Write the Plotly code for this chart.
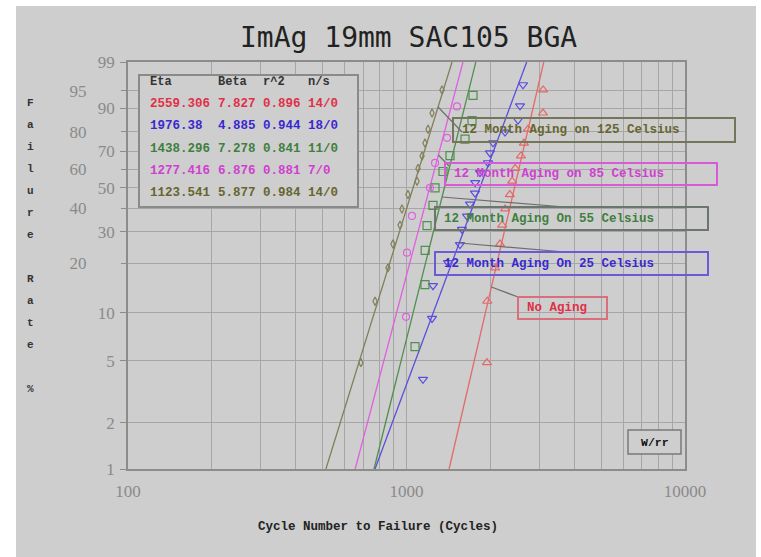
import numpy as np
import plotly.graph_objects as go

# ---- Weibull fit results (one row per test group) ----
groups = ["No Aging",
          "12 Month Aging On 25 Celsius",
          "12 Month Aging On 55 Celsius",
          "12 Month Aging on 85 Celsius",
          "12 Month Aging on 125 Celsius"]
eta = [2559.306, 1976.38, 1438.296, 1277.416, 1123.541]
beta = [7.827, 4.885, 7.278, 6.876, 5.877]
r_sq = [0.896, 0.944, 0.841, 0.881, 0.984]
n_s = ["14/0", "18/0", "11/0", "7/0", "14/0"]

# ---- Cycles to failure per group ----
cyc_none = [1945, 1950, 2080, 2165, 2205, 2260, 2350, 2395, 2455, 2575, 2640, 2730, 3090, 3095]
cyc_25c = [1146, 1235, 1245, 1410, 1556, 1582, 1649, 1690, 1762, 1765, 1836, 1962, 1994, 2045,
           2258, 2514, 2556, 2620]
cyc_55c = [1073, 1165, 1167, 1185, 1245, 1266, 1352, 1433, 1622, 1719, 1733]
cyc_85c = [996, 1004, 1046, 1214, 1266, 1398, 1518]
cyc_125c = [686, 771, 858, 894, 948, 963, 1012, 1091, 1100, 1137, 1165, 1195, 1235, 1341]
cycles = [cyc_none, cyc_25c, cyc_55c, cyc_85c, cyc_125c]

# ---- Axis ticks ----
x_ticks = [100, 1000, 10000]
x_minor = [200, 300, 400, 500, 600, 700, 800, 900, 2000, 3000, 4000, 5000, 6000, 7000, 8000, 9000]
y_ticks_inner = [99, 90, 70, 50, 30, 10, 5, 2, 1]
y_ticks_outer = [95, 80, 60, 40, 20]

line_colors = ["#e26a6a", "#5a4ee0", "#4f8f4f", "#e060e0", "#80805a"]
text_colors = ["#e03048", "#3a28d0", "#3f7f3f", "#d040d0", "#66662e"]
box_colors = ["#d8707c", "#6a5ad8", "#6d766d", "#d85ad8", "#75755a"]
symbols = ["triangle-up-open", "triangle-down-open", "square-open", "circle-open", "diamond-tall-open"]
sizes = [8, 8, 8, 7, 6]

PANEL = "#cecece"
W, H = 761, 557
PL, PR, PT, PB = 128, 685, 62, 469


def weib(p):
    """Weibull probability-paper transform of a fraction p."""
    p = np.asarray(p, dtype=float)
    return np.log(-np.log(1.0 - p))


Y0, Y1 = float(weib(0.01)), float(weib(0.99))


def px(x):
    return (x - PL) / (PR - PL)


def py(y):
    return (PB - y) / (PB - PT)


def fit_point_paper(k, y_pix):
    """Paper coordinates of the fitted line of group k at a given vertical pixel."""
    w = Y0 + (PB - y_pix) / (PB - PT) * (Y1 - Y0)
    t = eta[k] * np.exp(w / beta[k])
    return (np.log10(t) - 2) / 2, py(y_pix)


def label(text, x, y, size, color, family="Liberation Mono", weight="bold", xanchor="center"):
    return dict(text=text, xref="paper", yref="paper", x=px(x), y=py(y), xanchor=xanchor,
                yanchor="middle", showarrow=False,
                font=dict(family=family, size=size, color=color, weight=weight))


fig = go.Figure()

# fitted Weibull lines
for k in range(5):
    F = np.array([0.01, 0.99])
    t = eta[k] * (-np.log(1 - F)) ** (1 / beta[k])
    fig.add_trace(go.Scatter(x=t, y=weib(F), mode="lines",
                             line=dict(color=line_colors[k], width=1.3),
                             hoverinfo="skip", showlegend=False))

# failure points at median ranks
for k in range(5):
    data = np.sort(np.array(cycles[k], dtype=float))
    n = len(data)
    ranks = (np.arange(1, n + 1) - 0.3) / (n + 0.4)
    fig.add_trace(go.Scatter(x=data, y=weib(ranks), mode="markers",
                             marker=dict(symbol=symbols[k], size=sizes[k], color=line_colors[k],
                                         line=dict(width=1.2, color=line_colors[k])),
                             name=groups[k], showlegend=False))

# secondary axis only carrying the outer column of probability labels
fig.add_trace(go.Scatter(x=[1000], y=[0], yaxis="y2", mode="markers",
                         marker=dict(opacity=0), hoverinfo="skip", showlegend=False))

shapes = []
annotations = []

# grey panel
shapes.append(dict(type="rect", xref="paper", yref="paper", x0=px(16), x1=px(756), y0=py(6), y1=py(557),
                   fillcolor=PANEL, line=dict(width=0), layer="below"))

# title
annotations.append(label("ImAg 19mm SAC105 BGA", 408, 37, 28, "#222222", family="DejaVu Sans Mono",
                         weight="normal"))

# vertical axis caption, one letter per line
ylab = ["F", "a", "i", "l", "u", "r", "e", "", "R", "a", "t", "e", "", "%"]
for i, ch in enumerate(ylab):
    if ch:
        annotations.append(label(ch, 30, 103 + 22 * i, 11, "#333333"))

# horizontal axis caption
annotations.append(label("Cycle Number to Failure (Cycles)", 378, 527, 12.5, "#222222"))

# parameter table
shapes.append(dict(type="rect", xref="paper", yref="paper", x0=px(139), x1=px(358), y0=py(75), y1=py(207),
                   fillcolor=PANEL, line=dict(color="#8a8a8a", width=2), layer="above"))
col_x = [148, 216, 261, 306]
header = ["Eta", "Beta", "r^2", "n/s"]
for c, h in enumerate(header):
    annotations.append(label(h, col_x[c], 82, 12, "#333333", xanchor="left"))
row_y = [104, 126, 149, 171, 193]
for k in range(5):
    cells = [str(eta[k]), str(beta[k]), str(r_sq[k]), n_s[k]]
    for c, s in enumerate(cells):
        annotations.append(label(s, col_x[c], row_y[k], 12.5, text_colors[k], xanchor="left"))

# group labels with boxes and leader lines
label_boxes = [  # x0, x1, y0, y1 in pixels
    (518, 607, 297, 319),
    (435, 708, 252, 275),
    (435, 708, 207, 230),
    (445, 717, 163, 185),
    (453, 735, 118, 142),
]
leaders = [  # (pixel height on fitted line, pixel end point at the box)
    (287, (518, 297)),
    (243, (565, 252)),
    (197, (565, 207)),
    (155, (449, 166)),
    (107, (462, 132)),
]
for k in range(5):
    x0, x1, y0, y1 = label_boxes[k]
    hy, (ex, ey) = leaders[k]
    sx, sy = fit_point_paper(k, hy)
    shapes.append(dict(type="line", xref="paper", yref="paper", x0=sx, y0=sy, x1=px(ex), y1=py(ey),
                       line=dict(color="#6e6e6e", width=1.2), layer="above"))
    shapes.append(dict(type="rect", xref="paper", yref="paper", x0=px(x0), x1=px(x1), y0=py(y0), y1=py(y1),
                       fillcolor="rgba(0,0,0,0)", line=dict(color=box_colors[k], width=2), layer="above"))
    annotations.append(label(groups[k], x0 + 7, (y0 + y1) / 2, 12.5, text_colors[k], xanchor="left"))

# fit method tag
shapes.append(dict(type="rect", xref="paper", yref="paper", x0=px(628), x1=px(681), y0=py(430), y1=py(454),
                   fillcolor=PANEL, line=dict(color="#7a7a7a", width=1.5), layer="above"))
annotations.append(label("W/rr", 654.5, 442, 11.5, "#111111"))

grid = "#a6a6a6"
tickfont = dict(family="Liberation Serif", size=17, color="#8a8a8a")

fig.update_layout(
    width=W, height=H, autosize=False,
    margin=dict(l=PL, r=W - PR, t=PT, b=H - PB, pad=0),
    paper_bgcolor="white", plot_bgcolor="rgba(0,0,0,0)",
    shapes=shapes, annotations=annotations, showlegend=False,
    xaxis=dict(type="log", range=[2, 4], tickmode="array", tickvals=x_ticks,
               ticktext=[str(v) for v in x_ticks], tickfont=tickfont, ticks="", ticklabelstandoff=6,
               showgrid=True, gridcolor=grid, gridwidth=1,
               minor=dict(tickmode="array", tickvals=x_minor, showgrid=True, gridcolor=grid, gridwidth=1,
                          ticks=""),
               showline=True, mirror=True, linecolor="#8c8c8c", linewidth=1.5, zeroline=False),
    yaxis=dict(range=[Y0, Y1], tickmode="array", tickvals=list(weib(np.array(y_ticks_inner) / 100)),
               ticktext=[str(v) for v in y_ticks_inner], tickfont=tickfont,
               ticks="outside", ticklen=6, tickcolor="#8c8c8c", ticklabelstandoff=2,
               showgrid=True, gridcolor=grid, gridwidth=1,
               showline=True, mirror=True, linecolor="#8c8c8c", linewidth=1.5, zeroline=False),
    yaxis2=dict(range=[Y0, Y1], overlaying="y", side="left", anchor="x", tickmode="array",
                tickvals=list(weib(np.array(y_ticks_outer) / 100)),
                ticktext=[str(v) for v in y_ticks_outer], tickfont=tickfont,
                ticks="outside", ticklen=6, tickcolor="#8c8c8c", ticklabelstandoff=31,
                showgrid=True, gridcolor=grid, gridwidth=1, showline=False, zeroline=False),
)

fig.write_html("out.html")
